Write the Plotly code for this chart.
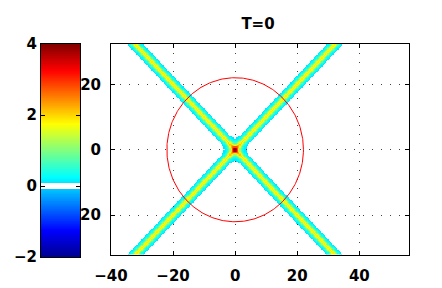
import numpy as np
import plotly.graph_objects as go

# ---- values ----
title_text = "T=0"
x_tick_vals = [-40, -20, 0, 20, 40]
y_tick_vals = [-20, 0, 20]
cbar_tick_vals = [-2, 0, 2, 4]
x_range = [-40, 56]
y_range = [-32, 32.3]
z_range = [-2, 4]
white_band = [-0.06, 0.1]           # colour band drawn white around 0

line_slopes = [1.0, -1.0]           # the two crossing ridges y = s*x
line_amplitude = 1.85               # ridge height (yellow)
line_sharpness = 1.2                # sech^2 inverse width (data units)
junction_amplitude = 0.45           # extra height where the ridges meet
junction_width = 2.2
circle_radius = 22
grid_step = 0.4

# ---- field on the grid ----
xs = np.arange(x_range[0], x_range[1] + grid_step, grid_step)
ys = np.arange(y_range[0], y_range[1] + grid_step, grid_step)
X, Y = np.meshgrid(xs, ys)
Z = np.zeros_like(X)
for s in line_slopes:
    d = (Y - s * X) / np.sqrt(1 + s * s)
    Z += line_amplitude / np.cosh(line_sharpness * d) ** 2
Z += junction_amplitude / np.cosh(np.hypot(X, Y) / junction_width) ** 2

# ---- jet colour scale with a transparent (white) band at 0 ----
jet = [(0.0, (0, 0, 143)), (0.125, (0, 0, 255)), (0.375, (0, 255, 255)),
       (0.625, (255, 255, 0)), (0.875, (255, 0, 0)), (1.0, (128, 0, 0))]


def jet_at(f):
    for (f0, c0), (f1, c1) in zip(jet[:-1], jet[1:]):
        if f0 <= f <= f1:
            t = (f - f0) / (f1 - f0)
            return "rgb(%d,%d,%d)" % tuple(round(a + (b - a) * t) for a, b in zip(c0, c1))
    return "rgb(128,0,0)"


def frac(v):
    return (v - z_range[0]) / (z_range[1] - z_range[0])


f_lo, f_hi = frac(white_band[0]), frac(white_band[1])
clear = "rgba(255,255,255,0)"
colorscale = [[0.0, jet_at(0.0)], [0.125, jet_at(0.125)], [f_lo, jet_at(f_lo)],
              [f_lo, clear], [f_hi, clear], [f_hi, jet_at(f_hi)],
              [0.375, jet_at(0.375)], [0.625, jet_at(0.625)],
              [0.875, jet_at(0.875)], [1.0, jet_at(1.0)]]

font = dict(family="DejaVu Sans, sans-serif", size=15, color="black", weight="bold")

fig = go.Figure()
fig.add_trace(go.Heatmap(x=xs, y=ys, z=Z, colorscale=colorscale, zmin=z_range[0], zmax=z_range[1],
                         showscale=False, zsmooth=False, hoverinfo="skip", xaxis="x", yaxis="y"))

theta = np.linspace(0, 2 * np.pi, 361)
fig.add_trace(go.Scatter(x=circle_radius * np.cos(theta), y=circle_radius * np.sin(theta),
                         mode="lines", line=dict(color="red", width=1), hoverinfo="skip",
                         xaxis="x", yaxis="y"))

# colour bar drawn as its own heatmap so its labels sit on the left
levels = np.linspace(z_range[0], z_range[1], 301)
fig.add_trace(go.Heatmap(x=[0], y=levels, z=[[v] for v in levels], colorscale=colorscale,
                         zmin=z_range[0], zmax=z_range[1], showscale=False, zsmooth=False,
                         hoverinfo="skip", xaxis="x2", yaxis="y2"))

W, H = 442, 288
OFF = 8  # the page body margin shifts the figure by 8 px


def px(v):
    return (v - OFF) / W


def py(v):
    return 1 - (v - OFF) / H


axis_common = dict(showline=True, linecolor="black", linewidth=1, mirror="allticks",
                   ticks="inside", ticklen=4, tickcolor="black", tickfont=font,
                   zeroline=False, automargin=False)

fig.update_layout(
    template="none",
    width=W, height=H, margin=dict(l=0, r=0, t=0, b=0, pad=0), autosize=False,
    paper_bgcolor="white", plot_bgcolor="white", showlegend=False,
    title=dict(text=title_text, x=px(258), y=py(24), xanchor="center", yanchor="middle",
               font=font, automargin=False),
    xaxis=dict(domain=[px(111), px(409)], range=x_range, tickvals=x_tick_vals,
               showgrid=True, gridcolor="#444", griddash="1px,8px", gridwidth=1,
               ticklabelstandoff=7, **axis_common),
    yaxis=dict(domain=[py(254.5), py(44)], range=y_range, tickvals=y_tick_vals,
               showgrid=True, gridcolor="#444", griddash="1px,8px", gridwidth=1,
               ticklabelstandoff=6, **axis_common),
    xaxis2=dict(domain=[px(41), px(80)], range=[-0.5, 0.5], showticklabels=False,
                showline=True, linecolor="black", linewidth=1, mirror=True, ticks="",
                showgrid=False, zeroline=False, anchor="y2", automargin=False),
    yaxis2=dict(domain=[py(257), py(44)], range=z_range, tickvals=cbar_tick_vals,
                showgrid=False, anchor="x2", ticklabelstandoff=0, **axis_common),
)

fig.write_html("out.html")
